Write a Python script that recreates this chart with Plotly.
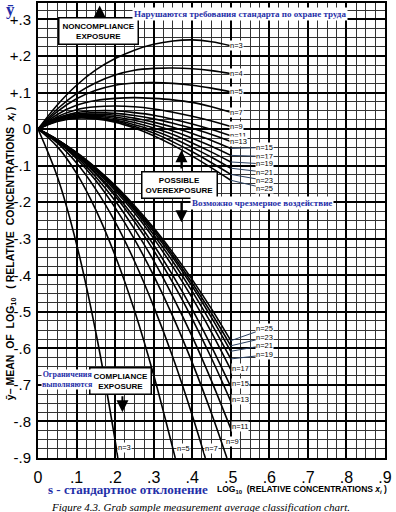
import plotly.graph_objects as go

# ---------------- data ----------------
s_vals = [0, 0.05, 0.10, 0.15, 0.20, 0.25, 0.30, 0.35, 0.40, 0.45, 0.50]

# upper family (noncompliance boundaries)
up_n3 = [0, 0.066, 0.120, 0.162, 0.193, 0.216, 0.232, 0.241, 0.244, 0.239, 0.228]
up_n4 = [0, 0.055, 0.097, 0.127, 0.148, 0.161, 0.166, 0.167, 0.165, 0.160, 0.152]
up_n5 = [0, 0.048, 0.083, 0.106, 0.120, 0.126, 0.127, 0.125, 0.120, 0.112, 0.102]
up_n7 = [0, 0.040, 0.065, 0.078, 0.084, 0.086, 0.084, 0.080, 0.073, 0.061, 0.046]
up_n9 = [0, 0.034, 0.053, 0.061, 0.063, 0.061, 0.055, 0.046, 0.035, 0.022, 0.007]
up_n11 = [0, 0.030, 0.045, 0.050, 0.050, 0.045, 0.038, 0.027, 0.014, -0.001, -0.018]
up_n13 = [0, 0.028, 0.041, 0.045, 0.043, 0.037, 0.028, 0.016, 0.002, -0.015, -0.034]
up_n15 = [0, 0.026, 0.038, 0.041, 0.038, 0.030, 0.019, 0.005, -0.012, -0.031, -0.053]
up_n17 = [0, 0.025, 0.036, 0.038, 0.033, 0.024, 0.011, -0.005, -0.025, -0.047, -0.072]
up_n19 = [0, 0.024, 0.034, 0.035, 0.029, 0.018, 0.003, -0.015, -0.038, -0.063, -0.090]
up_n21 = [0, 0.023, 0.032, 0.032, 0.025, 0.012, -0.004, -0.025, -0.050, -0.077, -0.107]
up_n23 = [0, 0.022, 0.031, 0.030, 0.022, 0.007, -0.011, -0.035, -0.062, -0.092, -0.124]
up_n25 = [0, 0.021, 0.030, 0.028, 0.019, 0.003, -0.018, -0.044, -0.074, -0.106, -0.140]

# lower family (compliance boundaries); short ones stop at the bottom edge
lo_s_n3 = [0, 0.05, 0.10, 0.15, 0.20, 0.207]
lo_n3 = [0, -0.130, -0.315, -0.556, -0.852, -0.90]
lo_s_n5 = [0, 0.05, 0.10, 0.15, 0.20, 0.25, 0.30, 0.35, 0.356]
lo_n5 = [0, -0.048, -0.121, -0.221, -0.346, -0.496, -0.673, -0.875, -0.90]
lo_s_n7 = [0, 0.05, 0.10, 0.15, 0.20, 0.25, 0.30, 0.35, 0.40, 0.434]
lo_n7 = [0, -0.038, -0.093, -0.165, -0.254, -0.361, -0.485, -0.625, -0.783, -0.90]
lo_s_n9 = [0, 0.05, 0.10, 0.15, 0.20, 0.25, 0.30, 0.35, 0.40, 0.45, 0.490]
lo_n9 = [0, -0.034, -0.081, -0.141, -0.215, -0.301, -0.401, -0.513, -0.639, -0.778, -0.90]
lo_n11 = [0, -0.033, -0.076, -0.131, -0.196, -0.273, -0.360, -0.459, -0.568, -0.689, -0.820]
lo_n13 = [0, -0.031, -0.072, -0.123, -0.183, -0.253, -0.332, -0.421, -0.519, -0.627, -0.745]
lo_n15 = [0, -0.031, -0.070, -0.119, -0.176, -0.242, -0.317, -0.401, -0.493, -0.595, -0.705]
lo_n17 = [0, -0.030, -0.068, -0.114, -0.168, -0.229, -0.299, -0.377, -0.462, -0.556, -0.658]
lo_n19 = [0, -0.030, -0.067, -0.111, -0.163, -0.222, -0.289, -0.363, -0.444, -0.533, -0.629]
lo_n21 = [0, -0.029, -0.066, -0.109, -0.159, -0.217, -0.281, -0.352, -0.430, -0.516, -0.608]
lo_n23 = [0, -0.029, -0.065, -0.107, -0.157, -0.213, -0.275, -0.345, -0.421, -0.504, -0.593]
lo_n25 = [0, -0.029, -0.064, -0.106, -0.154, -0.209, -0.270, -0.338, -0.412, -0.492, -0.579]

y_ticks = [0.3, 0.2, 0.1, 0, -0.1, -0.2, -0.3, -0.4, -0.5, -0.6, -0.7, -0.8, -0.9]
y_tick_text = ["+.3", "+.2", "+.1", "0", "-.1", "-.2", "-.3", "-.4", "-.5", "-.6", "-.7", "-.8", "-.9"]
x_ticks = [0, 0.1, 0.2, 0.3, 0.4, 0.5, 0.6, 0.7, 0.8, 0.9]
x_tick_text = ["0", ".1", ".2", ".3", ".4", ".5", ".6", ".7", ".8", ".9"]

upper_curves = [("3", up_n3), ("4", up_n4), ("5", up_n5), ("7", up_n7), ("9", up_n9),
                ("11", up_n11), ("13", up_n13), ("15", up_n15), ("17", up_n17),
                ("19", up_n19), ("21", up_n21), ("23", up_n23), ("25", up_n25)]
lower_curves = [("3", lo_s_n3, lo_n3), ("5", lo_s_n5, lo_n5), ("7", lo_s_n7, lo_n7),
                ("9", lo_s_n9, lo_n9), ("11", s_vals, lo_n11), ("13", s_vals, lo_n13),
                ("15", s_vals, lo_n15), ("17", s_vals, lo_n17), ("19", s_vals, lo_n19),
                ("21", s_vals, lo_n21), ("23", s_vals, lo_n23), ("25", s_vals, lo_n25)]

BLUE = "#1f2fa8"
fig = go.Figure()
for n, ys in upper_curves:
    fig.add_trace(go.Scatter(x=s_vals, y=ys, mode="lines", name="n=" + n,
                             line=dict(color="black", width=1.6, shape="spline", smoothing=1.0),
                             showlegend=False, hoverinfo="skip"))
for n, xs, ys in lower_curves:
    fig.add_trace(go.Scatter(x=xs, y=ys, mode="lines", name="n=" + n,
                             line=dict(color="black", width=1.6, shape="spline", smoothing=1.0),
                             showlegend=False, hoverinfo="skip"))

ann = []
lab_font = dict(family="Liberation Sans", size=7.5, color="black")

# upper labels without leaders
for n, ys in upper_curves[:7]:
    ann.append(dict(x=0.5, y=ys[-1], text="n=" + n, showarrow=False, xanchor="left",
                    yanchor="middle", xshift=-2, font=lab_font, bgcolor="white", borderpad=0))
# upper labels with leaders (offset in px)
up_off = {"15": (34, -1), "17": (34, 1), "19": (34, 2), "21": (34, 4), "23": (34, 6), "25": (34, 8)}
for n, ys in upper_curves[7:]:
    ax, ay = up_off[n]
    ann.append(dict(x=0.5, y=ys[-1], text="n=" + n, showarrow=True, arrowhead=0, arrowwidth=1,
                    ax=ax, ay=ay, font=lab_font, bgcolor="white", borderpad=0))
# lower labels
lo_off = {"19": (34, -4), "21": (34, -6), "23": (34, -8), "25": (34, -12)}
for n, xs, ys in lower_curves:
    if n in lo_off:
        ax, ay = lo_off[n]
        ann.append(dict(x=0.5, y=ys[-1], text="n=" + n, showarrow=True, arrowhead=0, arrowwidth=1,
                        ax=ax, ay=ay, font=lab_font, bgcolor="white", borderpad=0))
lo_pos = {"17": (0.5, -0.655), "15": (0.5, -0.695), "13": (0.5, -0.740), "11": (0.5, -0.813),
          "9": (0.485, -0.856), "7": (0.43, -0.875), "5": (0.358, -0.875), "3": (0.205, -0.872)}
for n, (px, py) in lo_pos.items():
    ann.append(dict(x=px, y=py, text="n=" + n, showarrow=False, xanchor="left", yanchor="middle",
                    font=lab_font, bgcolor="white", borderpad=0))

box_font = dict(family="Liberation Sans", size=8, color="black")
for (bx, by, btxt) in [(0.157, 0.268, "<b>NONCOMPLIANCE<br>EXPOSURE</b>"),
                       (0.367, -0.153, "<b>POSSIBLE<br>OVEREXPOSURE</b>"),
                       (0.214, -0.688, "<b>COMPLIANCE<br>EXPOSURE</b>")]:
    ann.append(dict(x=bx, y=by, text=btxt, showarrow=False, xanchor="center", yanchor="middle",
                    font=box_font, bgcolor="white", bordercolor="black", borderwidth=1.5,
                    borderpad=3))

# arrows
for (xh, yh, xt, yt) in [(0.16, 0.338, 0.16, 0.303), (0.372, -0.058, 0.372, -0.112),
                         (0.372, -0.255, 0.372, -0.197), (0.219, -0.775, 0.219, -0.727)]:
    ann.append(dict(x=xh, y=yh, ax=xt, ay=yt, axref="x", ayref="y", text="", showarrow=True,
                    arrowhead=2, arrowsize=1.2, arrowwidth=2, arrowcolor="black"))

blue_font = dict(family="Liberation Serif", size=9, color=BLUE)
ann.append(dict(x=0.523, y=0.315, text="<b>Нарушаются требования стандарта по охране труда</b>",
                showarrow=False, xanchor="center", yanchor="middle", font=blue_font,
                bgcolor="white", borderpad=1))
ann.append(dict(x=0.58, y=-0.203, text="<b>Возможно чрезмерное воздействие</b>",
                showarrow=False, xanchor="center", yanchor="middle", font=blue_font,
                bgcolor="white", borderpad=1))
ann.append(dict(x=0.077, y=-0.684, text="<b>Ограничения<br>выполняются</b>",
                showarrow=False, xanchor="center", yanchor="middle",
                font=dict(family="Liberation Serif", size=8, color=BLUE),
                bgcolor="white", borderpad=0))

# axis titles / caption (paper coords)
ann.append(dict(xref="paper", yref="paper", x=-0.078, y=0.985, text="<b>ȳ</b>", showarrow=False,
                xanchor="center", yanchor="middle",
                font=dict(family="Liberation Serif", size=17, color=BLUE)))
ann.append(dict(xref="paper", yref="paper", x=-0.078, y=0.45, textangle=-90, showarrow=False,
                xanchor="center", yanchor="middle",
                text="<b>ȳ– MEAN  OF  LOG<sub>10</sub>   ( RELATIVE  CONCENTRATIONS  <i>x<sub>i</sub></i> )</b>",
                font=dict(family="Liberation Sans", size=10.5, color="black")))
ann.append(dict(xref="paper", yref="paper", x=0.26, y=-0.069, showarrow=False,
                xanchor="center", yanchor="middle",
                text="<b>s - стандартное отклонение</b>",
                font=dict(family="Liberation Serif", size=13, color=BLUE)))
ann.append(dict(xref="paper", yref="paper", x=0.76, y=-0.069, showarrow=False,
                xanchor="center", yanchor="middle",
                text="<b>LOG<sub>10</sub>  (RELATIVE CONCENTRATIONS <i>x<sub>i</sub></i> )</b>",
                font=dict(family="Liberation Sans", size=8.5, color="black")))
ann.append(dict(xref="paper", yref="paper", x=0.467, y=-0.108, showarrow=False,
                xanchor="center", yanchor="middle",
                text="<i>Figure 4.3. Grab sample measurement average classification chart.</i>",
                font=dict(family="Liberation Serif", size=11, color="black")))

fig.update_layout(
    width=396, height=512,
    margin=dict(l=38, r=11, t=3, b=54, autoexpand=False),
    paper_bgcolor="white", plot_bgcolor="white",
    annotations=ann,
    xaxis=dict(range=[0, 0.9], tickmode="array", tickvals=x_ticks, ticktext=x_tick_text,
               showgrid=True, gridcolor="black", gridwidth=2, zeroline=False,
               showline=True, linecolor="black", linewidth=2, mirror=True, automargin=False,
               ticks="", ticklabelstandoff=4,
               tickfont=dict(family="Liberation Sans", size=16, color="black"),
               minor=dict(dtick=0.025, showgrid=True, gridcolor="#333", gridwidth=1)),
    yaxis=dict(range=[-0.9, 0.345], tickmode="array", tickvals=y_ticks, ticktext=y_tick_text,
               showgrid=True, gridcolor="black", gridwidth=2, zeroline=False,
               showline=True, linecolor="black", linewidth=2, mirror=True, automargin=False,
               ticks="", ticklabelstandoff=2,
               tickfont=dict(family="Liberation Sans", size=15, color="black"),
               minor=dict(dtick=0.025, showgrid=True, gridcolor="#333", gridwidth=1)),
)
fig.write_html("out.html", config={"displayModeBar": False},
               post_script="document.body.style.margin='0';document.body.style.padding='0';")
